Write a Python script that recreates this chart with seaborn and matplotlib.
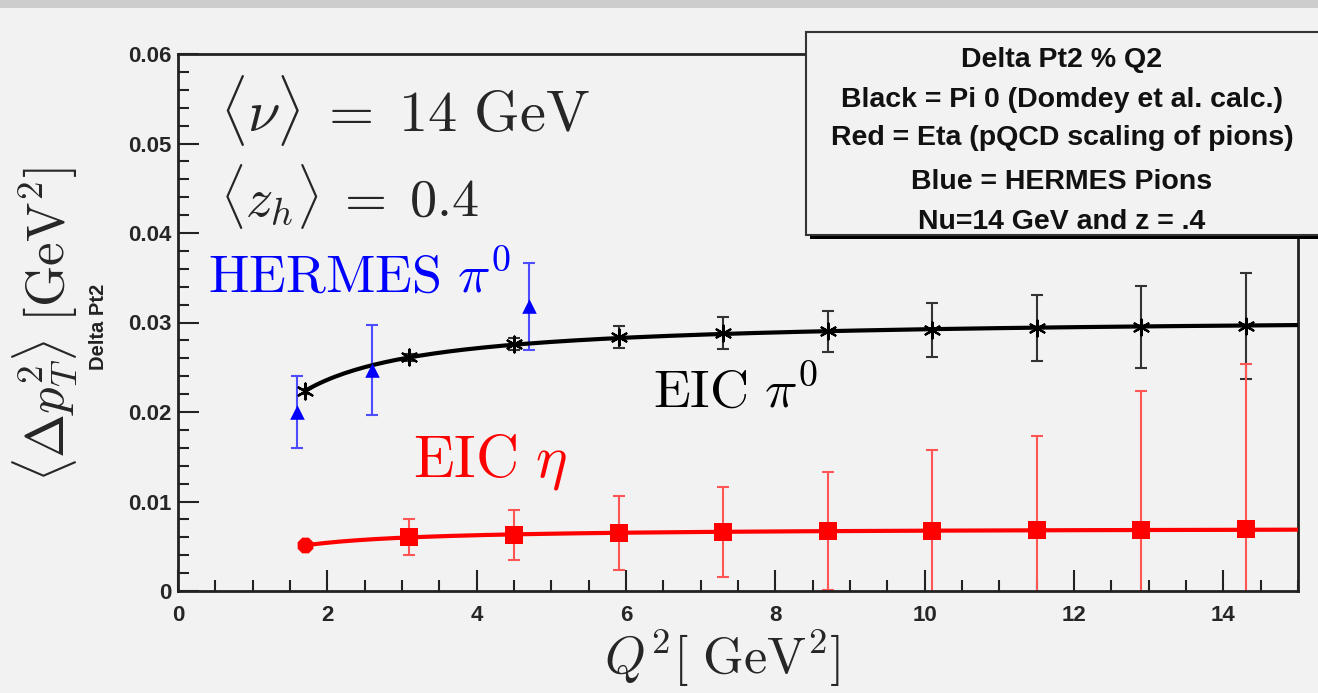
import numpy as np
import matplotlib
matplotlib.use("Agg")
import matplotlib.pyplot as plt
from matplotlib.patches import Rectangle
from matplotlib.ticker import MultipleLocator
import seaborn as sns
import pandas as pd

# ---------------- data ----------------
eic_pi0_q2 = [1.7, 3.1, 4.5, 5.9, 7.3, 8.7, 10.1, 11.5, 12.9, 14.3]
eic_pi0_dpt2 = [0.0223, 0.0261, 0.0276, 0.0284, 0.0288, 0.0290, 0.0292, 0.0294, 0.0295, 0.0296]
eic_pi0_err = [0.0003, 0.0004, 0.0007, 0.0012, 0.0018, 0.0023, 0.0030, 0.0037, 0.0046, 0.0059]

eic_eta_q2 = [1.7, 3.1, 4.5, 5.9, 7.3, 8.7, 10.1, 11.5, 12.9, 14.3]
eic_eta_dpt2 = [0.0051, 0.0060, 0.0063, 0.0065, 0.0066, 0.0067, 0.0067, 0.0068, 0.0068, 0.0069]
eic_eta_err = [0.0004, 0.0020, 0.0028, 0.0041, 0.0050, 0.0066, 0.0091, 0.0105, 0.0156, 0.0185]

hermes_q2 = [1.6, 2.6, 4.7]
hermes_dpt2 = [0.0200, 0.0247, 0.0318]
hermes_err = [0.0040, 0.0050, 0.0049]

x_ticks = [0, 2, 4, 6, 8, 10, 12, 14]
y_ticks = [0, 0.01, 0.02, 0.03, 0.04, 0.05, 0.06]

legend_lines = ["Delta Pt2 % Q2",
                "Black = Pi 0 (Domdey et al. calc.)",
                "Red = Eta (pQCD scaling of pions)",
                "Blue = HERMES Pions",
                "Nu=14 GeV and z = .4"]

# ---------------- style ----------------
sns.set_style("white")
plt.rcParams["font.family"] = ["Liberation Sans", "DejaVu Sans"]
plt.rcParams["mathtext.fontset"] = "cm"

W, H = 1318, 693
fig = plt.figure(figsize=(W / 100, H / 100), dpi=100)
fig.patch.set_facecolor("#f2f2f2")

# top textured band
fig.patches.append(Rectangle((0, 1 - 8 / H), 1, 8 / H, transform=fig.transFigure,
                             facecolor="#cdcdcd", edgecolor="none", zorder=0))

def fx(px):
    return px / W

def fy(py):
    return 1 - py / H

ax = fig.add_axes([fx(178), fy(591), fx(1298) - fx(178), fy(54) - fy(591)])
ax.set_facecolor("#f2f2f2")

# fitted curves (a + b/Q2 least-squares from the points)
def fit_curve(xs, ys):
    xs = np.asarray(xs); ys = np.asarray(ys)
    b, a = np.polyfit(1.0 / xs, ys, 1)
    xx = np.linspace(xs[0], 15, 200)
    return xx, a + b / xx

xx, yy = fit_curve(eic_pi0_q2, eic_pi0_dpt2)
sns.lineplot(x=xx, y=yy, ax=ax, color="black", lw=3, zorder=3)
xx, yy = fit_curve(eic_eta_q2, eic_eta_dpt2)
sns.lineplot(x=xx, y=yy, ax=ax, color="#ff0000", lw=3, zorder=3)

# error bars
ax.errorbar(eic_pi0_q2, eic_pi0_dpt2, yerr=eic_pi0_err, fmt="none",
            ecolor="#333333", elinewidth=1.5, capsize=4, capthick=1.5, zorder=2)
ax.errorbar(eic_eta_q2, eic_eta_dpt2, yerr=eic_eta_err, fmt="none",
            ecolor="#ff5555", elinewidth=1.5, capsize=4, capthick=1.5, zorder=2)
ax.errorbar(hermes_q2, hermes_dpt2, yerr=hermes_err, fmt="none",
            ecolor="#4d4dff", elinewidth=1.5, capsize=4, capthick=1.5, zorder=2)

# markers
df_pi0 = pd.DataFrame({"q2": eic_pi0_q2, "d": eic_pi0_dpt2})
sns.scatterplot(data=df_pi0, x="q2", y="d", ax=ax, marker=(6, 2, 0), s=130,
                color="black", linewidth=1.6, edgecolor="black", zorder=4)
df_eta = pd.DataFrame({"q2": eic_eta_q2[1:], "d": eic_eta_dpt2[1:]})
sns.scatterplot(data=df_eta, x="q2", y="d", ax=ax, marker="s", s=150,
                color="#ff0000", linewidth=0, zorder=4)
sns.scatterplot(x=eic_eta_q2[:1], y=eic_eta_dpt2[:1], ax=ax, marker="8", s=150,
                color="#ff0000", linewidth=0, zorder=4)
df_h = pd.DataFrame({"q2": hermes_q2, "d": hermes_dpt2})
sns.scatterplot(data=df_h, x="q2", y="d", ax=ax, marker="^", s=110,
                color="#0000ff", linewidth=0, zorder=4)

# axes
ax.set_xlim(0, 15)
ax.set_ylim(0, 0.06)
ax.set_xticks(x_ticks)
ax.set_yticks(y_ticks)
ax.xaxis.set_minor_locator(MultipleLocator(0.5))
ax.yaxis.set_minor_locator(MultipleLocator(0.002))
ax.set_xticklabels([str(v) for v in x_ticks])
ax.set_yticklabels(["0"] + [f"{v:.2f}" for v in y_ticks[1:]])
ax.tick_params(which="both", direction="in", bottom=True, left=True, top=False, right=False,
               color="#222222", width=1.5)
ax.tick_params(which="major", length=15, labelsize=16)
ax.tick_params(which="minor", length=8)
ax.tick_params(axis="x", pad=10)
ax.tick_params(axis="y", pad=5)
for lab in ax.get_xticklabels() + ax.get_yticklabels():
    lab.set_fontweight("bold")
for s in ax.spines.values():
    s.set_color("#222222")
    s.set_linewidth(2)
ax.set_xlabel("")
ax.set_ylabel("")

# small ROOT y title
fig.text(fx(98), fy(327), "Delta Pt2", rotation=90, ha="center", va="center",
         fontsize=14.5, fontweight="bold", color="#222222")

# big labels
fig.text(fx(45), fy(325), r"$\langle \Delta p_T^2 \rangle\ [\mathrm{GeV}^2]$", rotation=90,
         ha="center", va="center", fontsize=38)
fig.text(fx(722), fy(658), r"$Q^2[\ \mathrm{GeV}^2]$", ha="center", va="center", fontsize=37.5)

fig.text(fx(220), fy(110), r"$\langle \nu \rangle\;=\;14\ \mathrm{GeV}$", ha="left", va="center", fontsize=42)
fig.text(fx(220), fy(196), r"$\langle z_h \rangle\;=\;0.4$", ha="left", va="center", fontsize=39)
fig.text(fx(208), fy(278), r"$\mathrm{HERMES}\ \pi^0$", ha="left", va="center", fontsize=39, color="#0000ff")
fig.text(fx(653), fy(393), r"$\mathrm{EIC}\ \pi^0$", ha="left", va="center", fontsize=39, color="black")
fig.text(fx(413), fy(462), r"$\mathrm{EIC}\ \eta$", ha="left", va="center", fontsize=43, color="#ff0000")

# legend box (ROOT pave with shadow)
bx0, by0, bx1, by1 = 806, 32, 1330, 235
fig.patches.append(Rectangle((fx(bx0 + 4), fy(by1 + 4)), fx(bx1) - fx(bx0), fy(by0) - fy(by1),
                             transform=fig.transFigure, facecolor="black", edgecolor="none", zorder=5))
fig.patches.append(Rectangle((fx(bx0), fy(by1)), fx(bx1) - fx(bx0), fy(by0) - fy(by1),
                             transform=fig.transFigure, facecolor="#f2f2f2", edgecolor="#333333",
                             linewidth=1.5, zorder=6))
for txt, py in zip(legend_lines, [60, 100, 138, 182, 222]):
    fig.text(fx(1062), fy(py), txt, ha="center", va="center", fontsize=20.5,
             fontweight="bold", color="#111111", zorder=7)

fig.savefig("out.png", dpi=100, facecolor=fig.get_facecolor())
